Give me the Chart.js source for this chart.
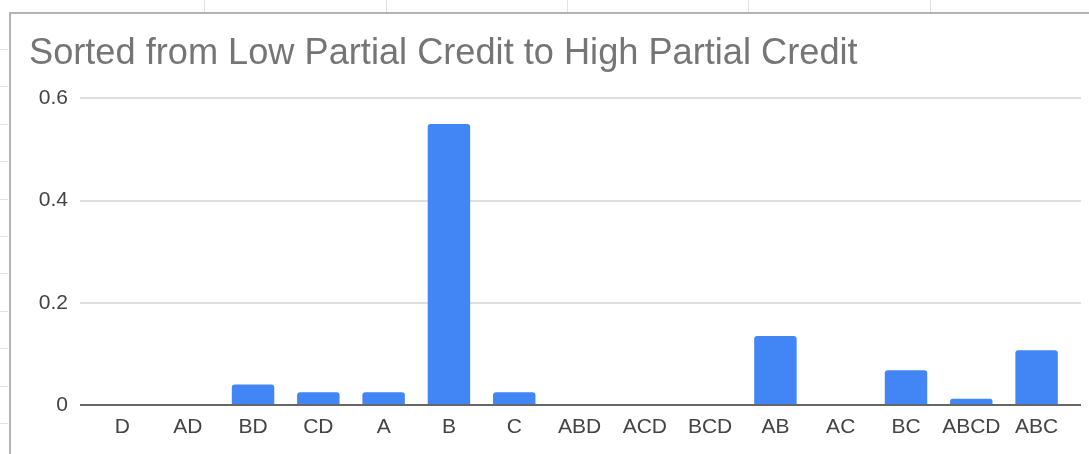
<!DOCTYPE html>
<html lang="en">
<head>
  <meta charset="UTF-8">
  <title>Sorted from Low Partial Credit to High Partial Credit</title>
  <script src="https://cdn.jsdelivr.net/npm/chart.js"></script>
  <style>
    html, body { margin: 0; padding: 0; background: #fff; }
    body { width: 1089px; height: 454px; position: relative; overflow: hidden; font-family: "Liberation Sans", Arial, sans-serif; }
    .col-line { position: absolute; top: 0; width: 1px; height: 12px; background: #e2e2e2; }
    .row-line { position: absolute; left: 0; width: 8px; height: 1px; background: #e2e2e2; }
    .chart-box {
      position: absolute; left: 9px; top: 12px; width: 1078px; height: 440px;
      border-left: 2px solid #b4b4b4; border-top: 2px solid #b4b4b4; background: #fff;
    }
  </style>
</head>
<body>
  <div class="chart-box">
    <canvas id="chart" width="1078" height="440"></canvas>
  </div>

  <script>
    // chart data
    const categories = ['D', 'AD', 'BD', 'CD', 'A', 'B', 'C', 'ABD', 'ACD', 'BCD', 'AB', 'AC', 'BC', 'ABCD', 'ABC'];
    const credit = [0, 0, 0.04, 0.025, 0.025, 0.55, 0.025, 0, 0, 0, 0.135, 0, 0.068, 0.012, 0.107];
    const yTicks = [0, 0.2, 0.4, 0.6];
    const titleText = 'Sorted from Low Partial Credit to High Partial Credit';

    // spreadsheet grid peeking out behind the chart
    [204, 386, 567, 748, 930].forEach(x => {
      const d = document.createElement('div');
      d.className = 'col-line';
      d.style.left = x + 'px';
      document.body.appendChild(d);
    });
    for (let i = 0; i < 11; i++) {
      const d = document.createElement('div');
      d.className = 'row-line';
      d.style.top = Math.round(49 + i * 37.4) + 'px';
      document.body.appendChild(d);
    }

    const font = '"Liberation Sans", Arial, sans-serif';

    new Chart(document.getElementById('chart'), {
      type: 'bar',
      data: {
        datasets: [{
          data: categories.map((c, i) => ({ x: i, y: credit[i] })),
          backgroundColor: '#4285f4',
          borderRadius: { topLeft: 3, topRight: 3 },
          borderSkipped: 'bottom',
          barPercentage: 0.65,
          categoryPercentage: 1
        }]
      },
      options: {
        responsive: false,
        animation: false,
        events: [],
        layout: { padding: { left: 18, right: 8, top: 0, bottom: 9 } },
        plugins: {
          legend: { display: false },
          tooltip: { enabled: false },
          title: {
            display: true,
            text: titleText,
            align: 'start',
            color: '#757575',
            font: { family: font, size: 36.2, weight: 'normal' },
            padding: { top: 18, bottom: 23 }
          }
        },
        scales: {
          x: {
            type: 'linear',
            offset: false,
            min: -0.65,
            max: 14.68,
            afterBuildTicks: s => { s.ticks = categories.map((c, i) => ({ value: i })); },
            afterFit: s => { s.height = 40; },
            grid: { display: false, offset: false },
            border: { display: false },
            ticks: {
              autoSkip: false,
              maxRotation: 0,
              padding: 2,
              color: '#444',
              font: { family: font, size: 21 },
              callback: v => categories[v]
            }
          },
          y: {
            min: 0,
            max: 0.6,
            afterBuildTicks: s => { s.ticks = yTicks.map(v => ({ value: v })); },
            afterFit: s => { s.width = 51; },
            border: { display: false },
            grid: {
              drawTicks: false,
              lineWidth: 2,
              color: c => c.tick.value === 0 ? '#666' : '#dedede'
            },
            ticks: {
              padding: 12,
              color: '#444',
              font: { family: font, size: 21 },
              callback: v => String(v)
            }
          }
        }
      }
    });
  </script>
</body>
</html>
